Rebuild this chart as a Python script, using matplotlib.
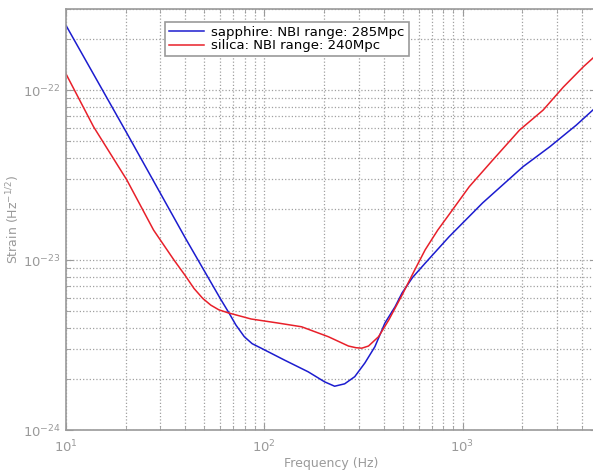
import numpy as np
import matplotlib.pyplot as plt
from matplotlib.ticker import LogLocator, NullFormatter

# sapphire curve (Hz, strain)
f_sapphire = [10, 20.3, 40, 60, 66.7, 72, 79.4, 87, 96.6, 126.5, 166.7, 201.8,
              226.6, 254.6, 286.2, 321.9, 361.5, 406.3, 457, 495.6, 560,
              648.6, 855, 1264, 2018, 2755, 3747, 4732, 5000]
h_sapphire = [2.41e-22, 5.58e-23, 1.35e-23, 5.95e-24, 4.85e-24, 4.15e-24,
              3.54e-24, 3.22e-24, 3.03e-24, 2.58e-24, 2.20e-24, 1.92e-24,
              1.81e-24, 1.87e-24, 2.06e-24, 2.48e-24, 3.09e-24, 4.26e-24,
              5.31e-24, 6.40e-24, 7.9e-24, 9.59e-24, 1.37e-23, 2.17e-23,
              3.54e-23, 4.64e-23, 6.22e-23, 7.97e-23, 8.47e-23]

# silica curve
f_silica = [10, 13.8, 20.3, 27.7, 35.1, 40, 44.3, 49, 53.8, 59, 65.5, 85.9,
            117.4, 154.3, 210.6, 266, 290, 310.6, 335.8, 377.3, 424.3, 495.6,
            570, 648.6, 750, 855, 1081, 1419, 1940, 2548, 3220, 4064, 4732,
            5000]
h_silica = [1.25e-22, 6.08e-23, 2.96e-23, 1.50e-23, 1.0e-23, 8.1e-24,
            6.8e-24, 5.95e-24, 5.43e-24, 5.1e-24, 4.9e-24, 4.50e-24,
            4.26e-24, 4.05e-24, 3.54e-24, 3.12e-24, 3.05e-24, 3.03e-24,
            3.12e-24, 3.54e-24, 4.43e-24, 6.22e-24, 8.6e-24, 1.15e-23,
            1.5e-23, 1.85e-23, 2.70e-23, 3.87e-23, 5.82e-23, 7.62e-23,
            1.04e-22, 1.37e-22, 1.61e-22, 1.70e-22]

grey = '#9a9a9a'

fig = plt.figure(figsize=(5.93, 4.71), dpi=100)
ax = fig.add_axes([0.111, 0.087, 0.895, 0.894])

ax.loglog(f_sapphire, h_sapphire, color='#1c1ccf', lw=1.1,
          label='sapphire: NBI range: 285Mpc')
ax.loglog(f_silica, h_silica, color='#e8202a', lw=1.1,
          label='silica: NBI range: 240Mpc')

ax.set_xlim(10, 4740)
ax.set_ylim(1e-24, 3e-22)

ax.xaxis.set_minor_locator(LogLocator(base=10, subs=np.arange(2, 10)))
ax.yaxis.set_minor_locator(LogLocator(base=10, subs=np.arange(2, 10)))
ax.xaxis.set_minor_formatter(NullFormatter())
ax.yaxis.set_minor_formatter(NullFormatter())

ax.grid(True, which='both', linestyle=':', color='#a0a0a0', lw=0.9)
ax.tick_params(which='both', direction='in', top=True, right=True,
               colors=grey, labelcolor=grey, labelsize=9.5)
ax.tick_params(which='major', length=5)
ax.tick_params(which='minor', length=3)
ax.tick_params(axis='x', pad=6)
for s in ax.spines.values():
    s.set_color(grey)
    s.set_linewidth(1.2)

ax.set_xlabel('Frequency (Hz)', color=grey, fontsize=9)
ax.set_ylabel('Strain (Hz$^{-1/2}$)', color=grey, fontsize=9)
ax.xaxis.set_label_coords(0.5, -0.065)
ax.yaxis.set_label_coords(-0.082, 0.5)

leg = ax.legend(loc='upper left', bbox_to_anchor=(0.175, 0.985), fontsize=9.5,
                handlelength=2.6, borderpad=0.3, labelspacing=0.05,
                handletextpad=0.6, fancybox=False, framealpha=1)
leg.get_frame().set_edgecolor(grey)
leg.get_frame().set_linewidth(1.2)

fig.savefig('out.png', dpi=100)
